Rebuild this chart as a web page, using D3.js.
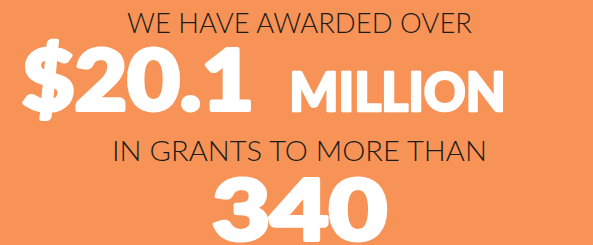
<!DOCTYPE html>
<html>
<head>
<meta charset="utf-8">
<script src="https://cdn.jsdelivr.net/npm/d3@7"></script>
<style>
  body { margin: 0; background: #f89357; }
  svg { display: block; }
</style>
</head>
<body>
<svg id="chart" width="593" height="245"></svg>
<script>
// text lines of the banner
var lines = ["WE HAVE AWARDED OVER", "$20.1", "MILLION", "IN GRANTS TO MORE THAN", "340"];
var kinds = ["thin", "big", "mid", "thin", "big"];
var lefts = [127, 20, 288, 112, 210];
var rights = [472, 256, 507, 487, 389];
var baselines = [33, 112, 112, 161, 242];

var sizes = { thin: 28, big: 84, mid: 53 };
var strokes = { thin: 0, big: 4, mid: 2.5 };

var svg = d3.select("svg#chart");

svg.append("rect")
    .attr("width", 593)
    .attr("height", 245)
    .style("fill", "#f89357");

//Heavy text gets a white stroke to look like a black weight
svg.selectAll("text")
  .data(lines)
  .enter().append("text")
    .attr("x", function (d, i) { return lefts[i] + strokes[kinds[i]] / 2; })
    .attr("y", function (d, i) { return baselines[i] - strokes[kinds[i]] / 2; })
    .attr("textLength", function (d, i) { return rights[i] - lefts[i] - strokes[kinds[i]]; })
    .attr("lengthAdjust", "spacingAndGlyphs")
    .style("font-family", "Lato, 'Open Sans', sans-serif")
    .style("font-weight", function (d, i) { return kinds[i] == "thin" ? 300 : 900; })
    .style("font-size", function (d, i) { return sizes[kinds[i]] + "px"; })
    .style("fill", function (d, i) { return kinds[i] == "thin" ? "#1b1b1b" : "#ffffff"; })
    .style("stroke", "#ffffff")
    .style("stroke-width", function (d, i) { return strokes[kinds[i]]; })
    .style("stroke-linejoin", "round")
    .text(function (d) { return d; });
</script>
</body>
</html>
